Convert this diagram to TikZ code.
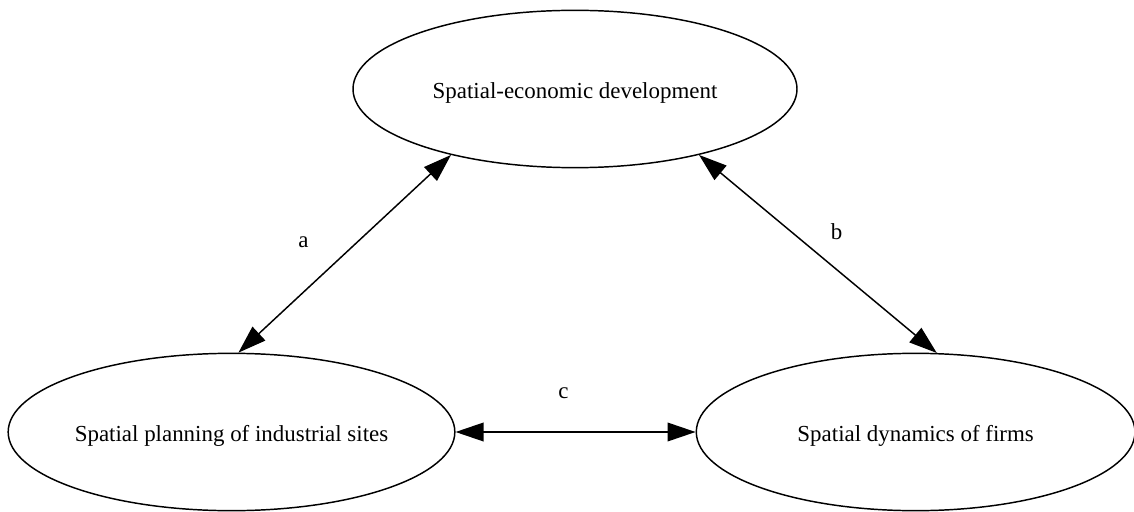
\documentclass[tikz,border=0pt]{standalone}
\usepackage{fontspec}
\setmainfont{Liberation Serif}
\usetikzlibrary{shapes.geometric, arrows.meta, positioning}

\begin{document}
\begin{tikzpicture}[x=0.75pt, y=0.75pt,
    region/.style = {shape=ellipse, draw, line width=1.1pt, align=center,
    font=\fontsize{17.2}{20}\selectfont, minimum height=118pt, inner sep=0pt,
    text height=14pt, text depth=0pt},
    link/.style={draw, line width=1.1pt,
    {Triangle[length=21pt,width=14pt]}-{Triangle[length=21pt,width=14pt]}},
    tag/.style={font=\fontsize{17.2}{20}\selectfont}]

    \useasboundingbox (0,0) rectangle (1134,511);

    \node[region, minimum width=333pt] (dev) at (575,422) {Spatial-economic development};
    \node[region, minimum width=335pt] (plan) at (231.5,79) {Spatial planning of industrial sites};
    \node[region, minimum width=329pt, right=180pt of plan] (firms) {Spatial dynamics of firms};

  \draw[link] (plan.85) -- node[tag, xshift=-31pt, yshift=9pt] {a} (dev.208);
  \draw[link] (dev.332) -- node[tag, xshift=14pt, yshift=17pt] {b} (firms.75);
  \draw[link] (plan.east) -- node[tag, xshift=-9pt, yshift=29pt] {c} (firms.west);
\end{tikzpicture}
\end{document}
